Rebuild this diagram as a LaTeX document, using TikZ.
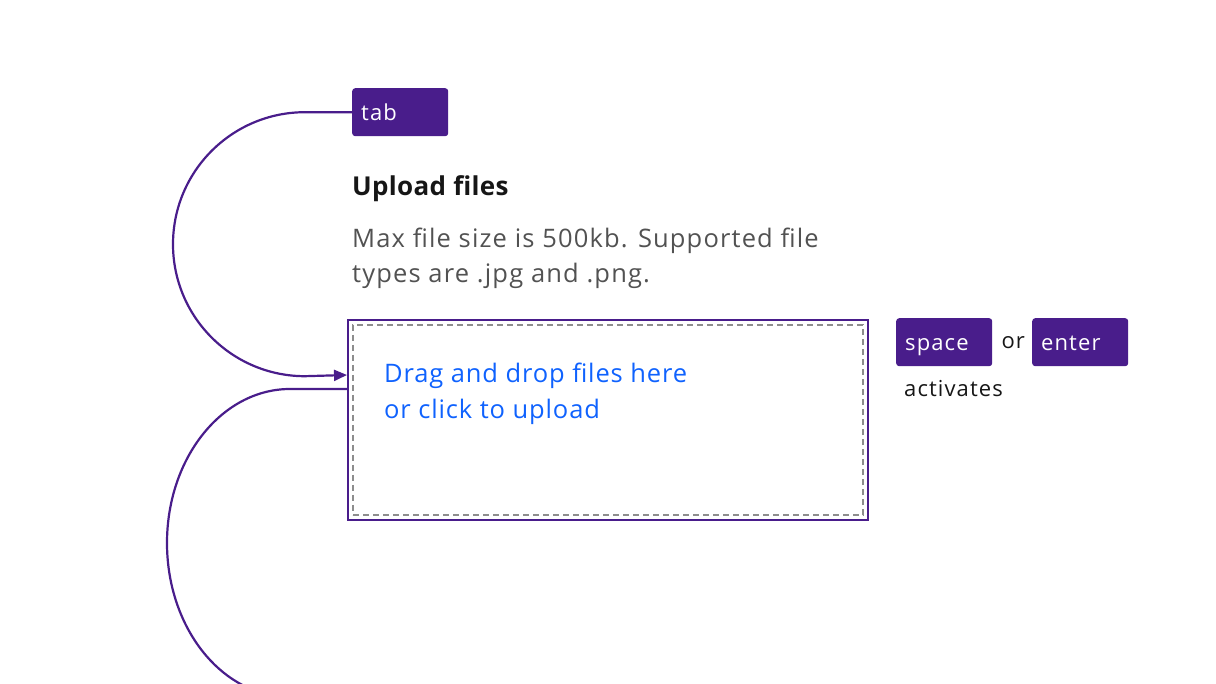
\documentclass[tikz,border=0pt]{standalone}
\usepackage{fontspec}
\setmainfont{Open Sans}
\usepackage{xcolor}
\usepackage{tikz}
\usetikzlibrary{arrows.meta}
\usetikzlibrary{positioning}
\definecolor{keypurple}{HTML}{491D8B}
\definecolor{hintgray}{HTML}{525252}
\definecolor{titleblack}{HTML}{161616}
\definecolor{linkblue}{HTML}{0F62FE}
\definecolor{dashgray}{HTML}{8D8D8D}
\tikzset{
    key_node/.style = {rectangle, rounded corners=3pt, fill=keypurple, text=white, minimum width=96pt, minimum height=48pt, text width=78pt, inner xsep=9pt, inner ysep=0pt, align=left, text height=16pt, text depth=0pt, font=\fontsize{22}{26}\selectfont\addfontfeature{LetterSpace=5}},
    plain_text/.style = {inner sep=0pt, align=left, text=titleblack, font=\fontsize{22}{26}\selectfont\addfontfeature{LetterSpace=5}},
    title_text/.style = {plain_text, font=\fontsize{26}{30}\selectfont\bfseries\addfontfeature{LetterSpace=1.3}},
    hint_text/.style = {plain_text, text=hintgray, font=\fontsize{25.5}{35}\selectfont\addfontfeature{LetterSpace=4.5}},
    link_text/.style = {plain_text, text=linkblue, font=\fontsize{25.5}{36}\selectfont\addfontfeature{LetterSpace=3.4}},
    drop_zone/.style = {rectangle, draw=keypurple, line width=2pt, minimum width=520pt, minimum height=200pt},
    drop_dash/.style = {rectangle, draw=dashgray, line width=2pt, dash pattern=on 6pt off 4pt, minimum width=510pt, minimum height=190pt},
    flow/.style = {draw=keypurple, line width=2.2pt}
}

\begin{document}
\begin{tikzpicture}
    [x=1pt, y=-1pt,
    >={Triangle[length=13pt, width=11pt]}]

    \useasboundingbox (0,0) rectangle (1216,684);
    \clip (0,0) rectangle (1216,684);

    % tab key and the text of the uploader
    \node [key_node, anchor=north west] (tab) at (352,88) {tab};
    \node [title_text, anchor=base west] (title) at (352,196) {Upload files};
    \node [hint_text, anchor=base west] (hint) at (352,283)
        {Max file size is 500kb. Supported file\\types are .jpg and .png.};

    % drop zone
    \node [drop_zone] (zone) at (608,420) {};
    \node [drop_dash] (zone_dash) at (zone.center) {};
    \node [link_text, anchor=base west] (prompt) at (384,419)
        {Drag and drop files here\\or click to upload};

    % keys that activate it
    \node [key_node, anchor=north west] (space) at (896,318) {space};
    \node [plain_text, right=9pt of space] (or) {or};
    \node [key_node, anchor=north west] (enter) at (1032,318) {enter};
    \node [plain_text, anchor=base west] (activates) at (904,397) {activates};

    % focus order
    \coordinate (zone_in) at (zone.west |- 0,375);
    \coordinate (zone_out) at (zone.west |- 0,389);
    \draw [flow, ->] (tab.west) -- ++(-47,0)
        arc [start angle=270, end angle=90, radius=132] -- (zone_in);
    \draw [flow] (zone_out) -- ++(-57,0)
        arc [start angle=270, end angle=100, x radius=123, y radius=154];
\end{tikzpicture}
\end{document}
